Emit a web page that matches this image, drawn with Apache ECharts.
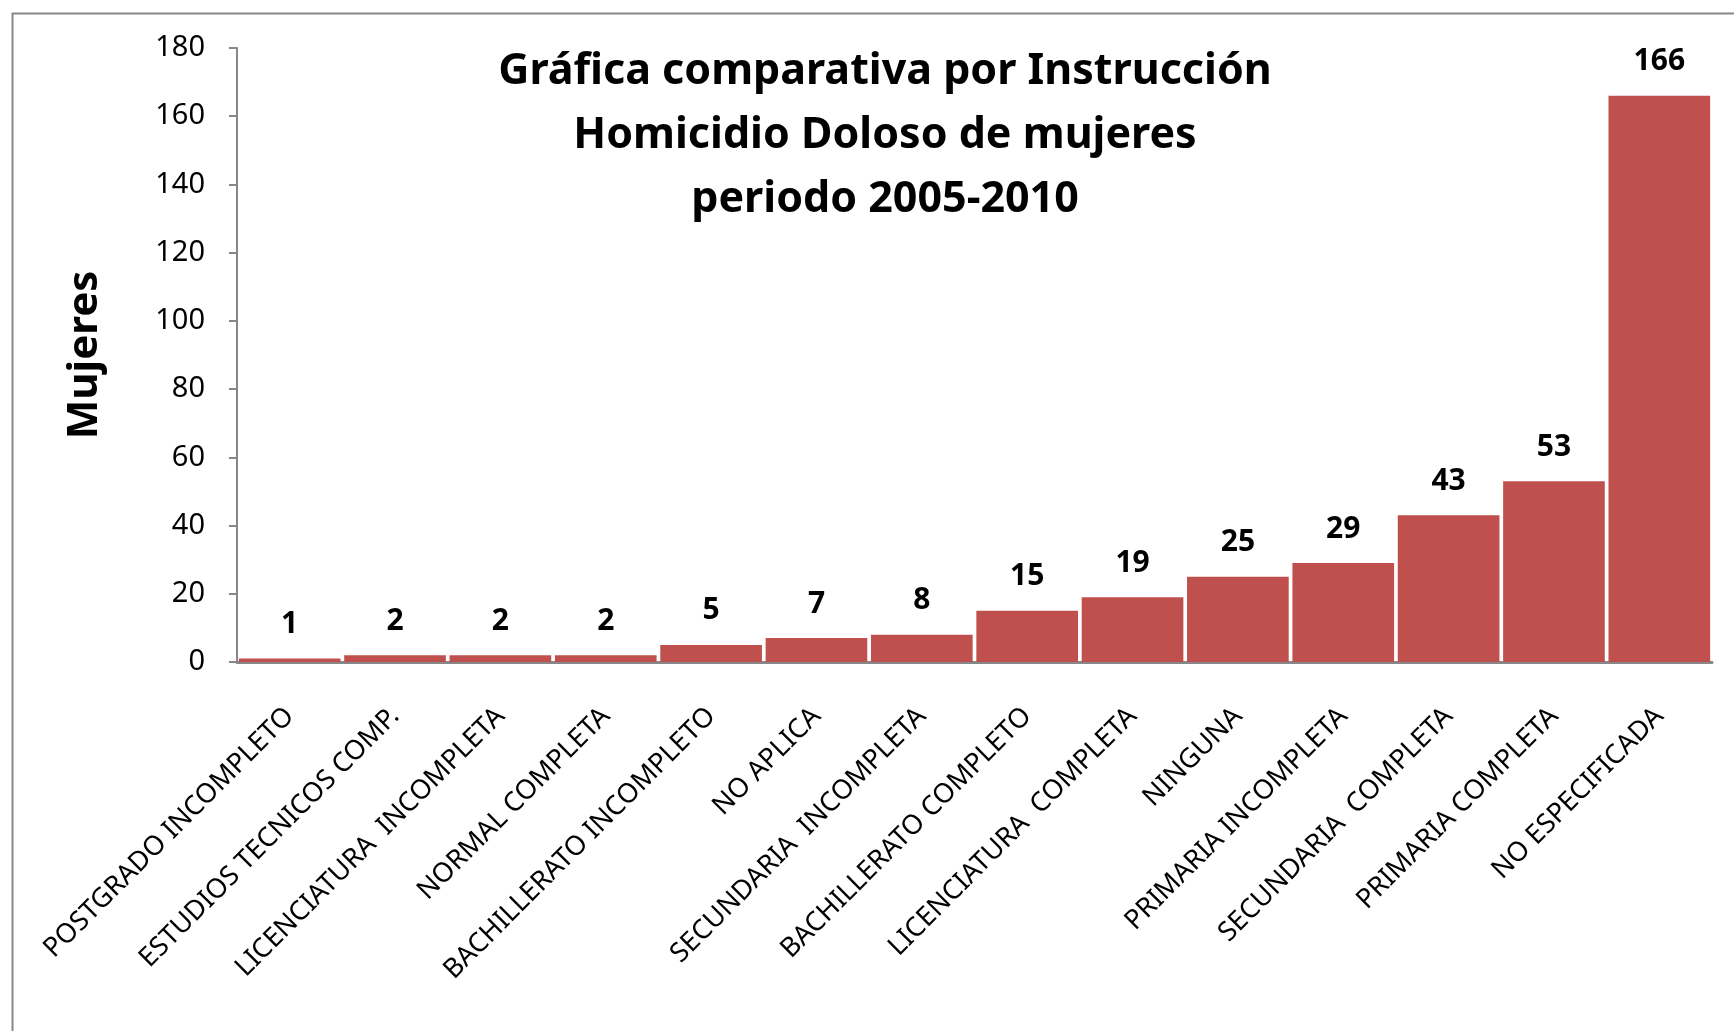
<!DOCTYPE html>
<html>
<head>
<meta charset="utf-8">
<script src="https://cdn.jsdelivr.net/npm/echarts@6/dist/echarts.min.js"></script>
<style>
html,body{margin:0;padding:0;background:#fff;}
#chart{width:1734px;height:1031px;}
</style>
</head>
<body>
<div id="chart"></div>
<script>
const categories = [
  'POSTGRADO INCOMPLETO',
  'ESTUDIOS TECNICOS COMP.',
  'LICENCIATURA  INCOMPLETA',
  'NORMAL COMPLETA',
  'BACHILLERATO INCOMPLETO',
  'NO APLICA',
  'SECUNDARIA  INCOMPLETA',
  'BACHILLERATO COMPLETO',
  'LICENCIATURA  COMPLETA',
  'NINGUNA',
  'PRIMARIA INCOMPLETA',
  'SECUNDARIA  COMPLETA',
  'PRIMARIA COMPLETA',
  'NO ESPECIFICADA'
];
const mujeres = [1, 2, 2, 2, 5, 7, 8, 15, 19, 25, 29, 43, 53, 166];
const yTicks = { min: 0, max: 180, interval: 20 };
const titleLines = ['Gráfica comparativa por Instrucción', 'Homicidio Doloso de mujeres', 'periodo 2005-2010'];
const yName = 'Mujeres';

const FONT = '"Noto Sans", "Open Sans", sans-serif';
const chart = echarts.init(document.getElementById('chart'));
chart.setOption({
  backgroundColor: '#ffffff',
  animation: false,
  title: {
    text: titleLines.join('\n'),
    left: 880, top: 35, textAlign: 'center',
    textStyle: { fontFamily: FONT, fontSize: 43, fontWeight: 'bold', color: '#000', lineHeight: 64 }
  },
  graphic: [{
    type: 'rect', left: 10, top: 11, z: -1,
    shape: { width: 1760, height: 1060 },
    style: { fill: 'none', stroke: '#878787', lineWidth: 2 }
  }],
  grid: { left: 237, right: 22, top: 48, bottom: 369, containLabel: false },
  xAxis: {
    type: 'category', data: categories,
    axisLine: { show: true, lineStyle: { color: '#878787', width: 3 } },
    axisTick: { show: false },
    axisLabel: {
      rotate: 45, interval: 0, margin: 50, fontFamily: FONT, fontSize: 27, color: '#000',
      padding: [30, 0, 0, 0]
    }
  },
  yAxis: {
    type: 'value', min: yTicks.min, max: yTicks.max, interval: yTicks.interval,
    name: yName, nameLocation: 'middle', nameGap: 131, nameRotate: 90,
    nameTextStyle: { fontFamily: FONT, fontSize: 42, fontWeight: 'bold', color: '#000' },
    splitLine: { show: false },
    axisLine: { show: true, lineStyle: { color: '#878787', width: 2 } },
    axisTick: { show: true, length: 8, lineStyle: { color: '#878787', width: 2 } },
    axisLabel: { margin: 32, fontFamily: FONT, fontSize: 29, color: '#000' }
  },
  series: [{
    type: 'bar', data: mujeres, barCategoryGap: '3.5%',
    itemStyle: { color: '#C0504D' },
    label: {
      show: true, position: 'top', distance: 19,
      fontFamily: FONT, fontSize: 30, fontWeight: 'bold', color: '#000'
    }
  }]
});
</script>
</body>
</html>
